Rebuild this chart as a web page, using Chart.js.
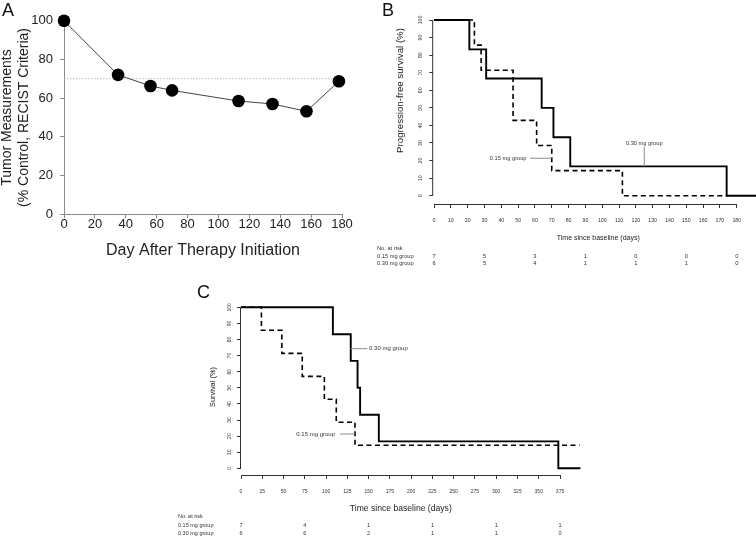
<!DOCTYPE html>
<html>
<head>
<meta charset="utf-8">
<script src="https://cdn.jsdelivr.net/npm/chart.js@4.4.1/dist/chart.umd.min.js"></script>
<style>
  body { margin: 0; background: #fff; }
  #fig { position: relative; width: 756px; height: 538px; overflow: hidden; font-family: "Liberation Sans", Arial, Helvetica, sans-serif; }
  canvas { position: absolute; }
  .tag { position: absolute; font-size: 18px; line-height: 1; color: #111; }
</style>
</head>
<body>
<div id="fig">
  <canvas id="chartA" width="370" height="262" style="left:0;top:0;width:370px;height:262px"></canvas>
  <canvas id="chartB" width="386" height="275" style="left:370px;top:0;width:386px;height:275px"></canvas>
  <canvas id="chartC" width="586" height="258" style="left:170px;top:280px;width:586px;height:258px"></canvas>
  <div class="tag" style="left:2px;top:1px">A</div>
  <div class="tag" style="left:382px;top:1px">B</div>
  <div class="tag" style="left:197px;top:283px">C</div>
</div>
<script>
const FONT = '"Liberation Sans", Arial, Helvetica, sans-serif'
Chart.defaults.font.family = FONT
Chart.defaults.color = "#222"

// panel A - tumour measurements
const daysA = [0, 35, 56, 70, 113, 135, 157, 178]
const tumorPct = [100, 72, 66.3, 64, 58.5, 57, 53.2, 68.7]
const recistCut = 70
const xTicksA = [0, 20, 40, 60, 80, 100, 120, 140, 160, 180]
const yTicksA = [0, 20, 40, 60, 80, 100]

// panel B - progression-free survival
const pfsDays30 = [0, 21, 31, 64, 71, 81, 174, 191.5]
const pfsSurv30 = [100, 83.3, 66.7, 50, 33.3, 16.7, 0, 0]
const pfsDays15 = [0, 24, 28, 47, 61, 70, 112, 174]
const pfsSurv15 = [100, 85.7, 71.4, 42.9, 28.6, 14.3, 0, 0]
const xTicksB = [0, 10, 20, 30, 40, 50, 60, 70, 80, 90, 100, 110, 120, 130, 140, 150, 160, 170, 180]
const riskDaysB = [0, 30, 60, 90, 120, 150, 180]
const riskB15 = [7, 5, 3, 1, 0, 0, 0]
const riskB30 = [6, 5, 4, 1, 1, 1, 0]

// panel C - overall survival
const osDays30 = [0, 108, 129, 137, 140, 162, 373, 399]
const osSurv30 = [100, 83.3, 66.7, 50, 33.3, 16.7, 0, 0]
const osDays15 = [0, 24, 48, 72, 98, 112, 134, 398]
const osSurv15 = [100, 85.7, 71.4, 57.1, 42.9, 28.6, 14.3, 14.3]
const xTicksC = [0, 25, 50, 75, 100, 125, 150, 175, 200, 225, 250, 275, 300, 325, 350, 375]
const riskDaysC = [0, 75, 150, 225, 300, 375]
const riskC15 = [7, 4, 1, 1, 1, 1]
const riskC30 = [6, 6, 2, 1, 1, 0]

const yTicksKM = [0, 10, 20, 30, 40, 50, 60, 70, 80, 90, 100]
const groupNames = ["0.15 mg group", "0.30 mg group"]

const toPts = (xs, ys) => xs.map((x, i) => ({ x: x, y: ys[i] }))
const setTicks = list => scale => { scale.ticks = list.map(v => ({ value: v })) }

// ---- panel A ----
new Chart(document.getElementById("chartA"), {
  type: "line",
  data: {
    datasets: [
      {
        data: toPts(daysA, tumorPct),
        borderColor: "#444",
        borderWidth: 1,
        pointRadius: 6.3,
        pointBackgroundColor: "#000",
        pointBorderColor: "#000",
        pointBorderWidth: 0,
        clip: false,
      },
      {
        data: toPts([xTicksA[0], xTicksA[xTicksA.length - 1]], [recistCut, recistCut]),
        borderColor: "#b8b8b8",
        borderWidth: 1,
        borderDash: [1.5, 1.5],
        pointRadius: 0,
      },
    ],
  },
  options: {
    responsive: false,
    animation: false,
    events: [],
    layout: { padding: { left: 0, top: 20.7, right: 28, bottom: 1.7 } },
    plugins: { legend: { display: false }, tooltip: { enabled: false } },
    scales: {
      x: {
        type: "linear",
        min: 0,
        max: 180,
        afterBuildTicks: setTicks(xTicksA),
        afterFit: s => { s.height = 46 },
        grid: { drawOnChartArea: false, tickLength: 4, color: "#8a8a8a" },
        border: { color: "#8a8a8a" },
        ticks: { font: { size: 13 }, color: "#222", padding: -2, maxRotation: 0, autoSkip: false },
        title: { display: true, text: "Day After Therapy Initiation", font: { size: 16 }, color: "#222", padding: 0 },
      },
      y: {
        min: 0,
        max: 100,
        afterBuildTicks: setTicks(yTicksA),
        afterFit: s => { s.width = 64 },
        grid: { drawOnChartArea: false, tickLength: 4, color: "#8a8a8a" },
        border: { color: "#8a8a8a" },
        ticks: { font: { size: 13 }, color: "#222", padding: 7 },
        title: {
          display: true,
          text: ["Tumor Measurements", "(% Control, RECIST Criteria)"],
          font: { size: 14 },
          color: "#222",
          padding: { top: -1.5, bottom: 0 },
        },
      },
    },
  },
})

// ---- panels B and C: Kaplan-Meier style ----
const kmExtras = {
  id: "kmExtras",
  afterDraw(chart, args, o) {
    const { ctx, chartArea: a, scales: { x, y } } = chart
    ctx.save()
    // axis lines from first to last tick, like base R
    ctx.strokeStyle = "#333"
    ctx.lineWidth = 1
    ctx.beginPath()
    ctx.moveTo(x.getPixelForValue(o.xTicks[0]), a.bottom + 0.5)
    ctx.lineTo(x.getPixelForValue(o.xTicks[o.xTicks.length - 1]), a.bottom + 0.5)
    ctx.moveTo(a.left - 0.5, y.getPixelForValue(yTicksKM[0]))
    ctx.lineTo(a.left - 0.5, y.getPixelForValue(yTicksKM[yTicksKM.length - 1]))
    ctx.stroke()

    // group labels with pointer lines
    ctx.strokeStyle = "#8c8c8c"
    ctx.fillStyle = "#333"
    ctx.font = o.noteFont + "px " + FONT
    ctx.textBaseline = "middle"
    o.notes.forEach(n => {
      ctx.beginPath()
      ctx.moveTo(x.getPixelForValue(n.line[0][0]), y.getPixelForValue(n.line[0][1]))
      ctx.lineTo(x.getPixelForValue(n.line[1][0]), y.getPixelForValue(n.line[1][1]))
      ctx.stroke()
      ctx.textAlign = n.align
      ctx.fillText(n.text, x.getPixelForValue(n.tx), y.getPixelForValue(n.ty))
    })

    // axis titles
    ctx.fillStyle = "#222"
    ctx.textAlign = "center"
    ctx.font = o.xTitle.size + "px " + FONT
    ctx.fillText(o.xTitle.text, o.xTitle.cx, o.xTitle.cy)
    ctx.save()
    ctx.translate(o.yTitle.cx, o.yTitle.cy)
    ctx.rotate(-Math.PI / 2)
    ctx.font = o.yTitle.size + "px " + FONT
    ctx.fillText(o.yTitle.text, 0, 0)
    ctx.restore()

    // numbers at risk
    ctx.fillStyle = "#333"
    ctx.font = o.riskFont + "px " + FONT
    ctx.textAlign = "left"
    ctx.fillText("No. at risk", o.riskX, o.riskY[0])
    o.riskRows.forEach((row, r) => {
      ctx.textAlign = "left"
      ctx.fillText(groupNames[r], o.riskX, o.riskY[r + 1])
      ctx.textAlign = "center"
      row.forEach((n, i) => ctx.fillText(String(n), x.getPixelForValue(o.riskDays[i]), o.riskY[r + 1]))
    })
    ctx.restore()
  },
}

function kmChart(id, p) {
  return new Chart(document.getElementById(id), {
    type: "line",
    data: {
      datasets: [
        {
          data: toPts(p.days30, p.surv30),
          stepped: "before",
          borderColor: "#000",
          borderWidth: 1.9,
          pointRadius: 0,
          clip: false,
        },
        {
          data: toPts(p.days15, p.surv15),
          stepped: "before",
          borderColor: "#000",
          borderWidth: 1.6,
          borderDash: [5, 3.5],
          pointRadius: 0,
          clip: false,
        },
      ],
    },
    options: {
      responsive: false,
      animation: false,
      events: [],
      layout: { padding: p.pad },
      plugins: { legend: { display: false }, tooltip: { enabled: false }, kmExtras: p.extras },
      scales: {
        x: {
          type: "linear",
          min: p.xMin,
          max: p.xMax,
          afterBuildTicks: setTicks(p.extras.xTicks),
          afterFit: s => { s.height = p.xAxisH },
          grid: { drawOnChartArea: false, tickLength: 4, color: "#333" },
          border: { display: false },
          ticks: { font: { size: p.tickFont }, color: "#333", padding: p.xTickPad, maxRotation: 0, autoSkip: false },
        },
        y: {
          min: p.yMin,
          max: 100,
          afterBuildTicks: setTicks(yTicksKM),
          afterFit: s => { s.width = p.yAxisW },
          grid: { drawOnChartArea: false, tickLength: 4, color: "#333" },
          border: { display: false },
          ticks: {
            font: { size: p.tickFont },
            color: "#333",
            minRotation: 90,
            maxRotation: 90,
            crossAlign: "center",
            padding: p.yTickPad,
            autoSkip: false,
          },
        },
      },
    },
    plugins: [kmExtras],
  })
}

kmChart("chartB", {
  days30: pfsDays30, surv30: pfsSurv30, days15: pfsDays15, surv15: pfsSurv15,
  xMin: -0.5, xMax: 191.45, yMin: -4.72,
  pad: { left: 0, top: 20, right: 0, bottom: 51 },
  xAxisH: 20, yAxisW: 63.2,
  tickFont: 5.2, xTickPad: 9, yTickPad: 3.9,
  extras: {
    xTicks: xTicksB,
    noteFont: 5.7,
    notes: [
      { text: groupNames[1], tx: 125, ty: 29.8, align: "center", line: [[125, 27.9], [125, 16.7]] },
      { text: groupNames[0], tx: 55, ty: 21.3, align: "right", line: [[57.1, 21.3], [70, 21.3]] },
    ],
    xTitle: { text: "Time since baseline (days)", size: 7, cx: 228.3, cy: 238 },
    yTitle: { text: "Progression-free survival (%)", size: 9.7, cx: 30, cy: 90.5 },
    riskFont: 5.7, riskX: 7, riskY: [248.5, 256, 263.5],
    riskDays: riskDaysB, riskRows: [riskB15, riskB30],
  },
})

kmChart("chartC", {
  days30: osDays30, surv30: osSurv30, days15: osDays15, surv15: osSurv15,
  xMin: 0, xMax: 400, yMin: -4.16,
  pad: { left: 0, top: 27.3, right: 174.7, bottom: 41 },
  xAxisH: 22, yAxisW: 71,
  tickFont: 5, xTickPad: 10, yTickPad: 3.5,
  extras: {
    xTicks: xTicksC,
    noteFont: 6,
    notes: [
      { text: groupNames[1], tx: 150.5, ty: 74.3, align: "left", line: [[129, 74.3], [148.5, 74.3]] },
      { text: groupNames[0], tx: 110.5, ty: 21.3, align: "right", line: [[116.4, 21.3], [134, 21.3]] },
    ],
    xTitle: { text: "Time since baseline (days)", size: 8.6, cx: 230.8, cy: 229 },
    yTitle: { text: "Survival (%)", size: 7.4, cx: 43, cy: 107 },
    riskFont: 5.5, riskX: 8, riskY: [236.7, 245, 253],
    riskDays: riskDaysC, riskRows: [riskC15, riskC30],
  },
})
</script>
</body>
</html>
